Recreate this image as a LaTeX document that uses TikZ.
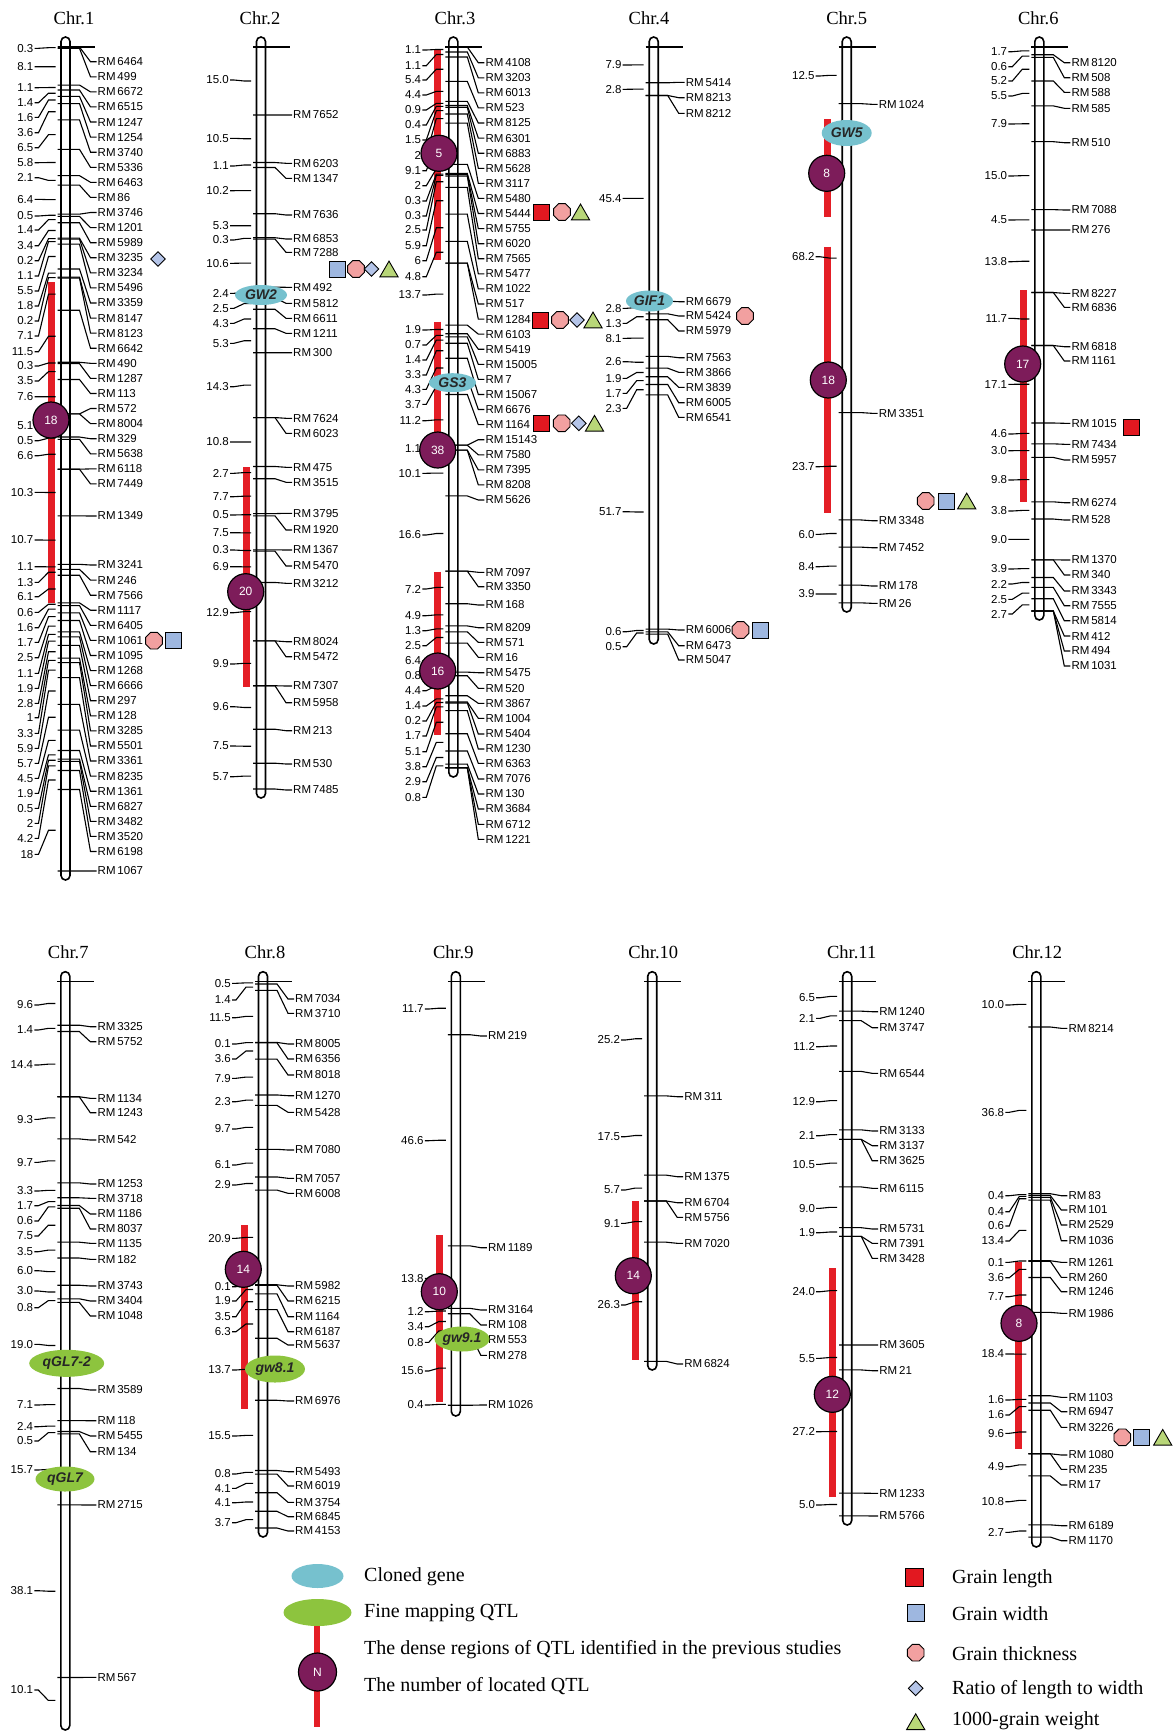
\documentclass[tikz,border=0pt]{standalone}
\usepackage{fontspec}
\setmainfont{Liberation Serif}
\setsansfont{Liberation Sans}
\usepackage{tikz}
\usetikzlibrary{shapes.geometric}

\definecolor{qred}{RGB}{228,30,38}
\definecolor{qpurple}{RGB}{125,28,90}
\definecolor{qclone}{RGB}{118,193,206}
\definecolor{qfine}{RGB}{141,196,62}
\definecolor{qlen}{RGB}{226,24,32}
\definecolor{qwid}{RGB}{158,183,224}
\definecolor{qthk}{RGB}{242,160,160}
\definecolor{qrat}{RGB}{180,196,232}
\definecolor{qwt}{RGB}{184,214,120}

% chromosome bar: centre x, first marker y, bottom y
\newcommand{\chrbar}[3]{\draw[chromo] (#1-4.5,#2-10) rectangle (#1+4.5,#3);}
% map: id, centre x, first marker y, intervals (cM/label y), markers (position/label y/name)
\newcommand{\chrmap}[5]{%
  \coordinate (#1-0) at (#2,#3);
  \draw[tk] ([xshift=-8pt]#1-0) -- ([xshift=29pt]#1-0);
  \gdef\cmcum{0}
  \foreach \dist/\ly [count=\i] in {#4}{
    \pgfmathsetmacro\prevy{#3+4.53*\cmcum}
    \pgfmathsetmacro\newcum{\cmcum+\dist}
    \xdef\cmcum{\newcum}
    \pgfmathsetmacro\posy{#3+4.53*\newcum}
    \pgfmathsetmacro\midy{(\prevy+\posy)/2}
    \coordinate (#1-\i) at (#2,\posy);
    \coordinate (#1-t\i) at (#2-10,\midy);
    \node[dlbl] (#1-d\i) at (#2-31,\ly) {\dist};
    \draw[tk] (#1-d\i.east) -- ++(4,0) -- ([xshift=-7pt]#1-t\i) -- (#1-t\i);
  }
  \foreach \pk/\ly/\nm [count=\mj] in {#5}{
    \node[mlbl] (#1-m\mj) at (#2+31,\ly) {RM\,\nm};
    \draw[tk] ([xshift=-8pt]#1-\pk) -- ([xshift=14pt]#1-\pk) -- ([xshift=-6pt]#1-m\mj.west) -- (#1-m\mj.west);
  }
}

\begin{document}
\begin{tikzpicture}[x=1pt, y=-1pt,
  tk/.style={line width=1.1pt},
  chromo/.style={draw, line width=1.6pt, fill=white, rounded corners=4.5pt},
  qtl/.style={draw=qred, line width=7pt},
  mlbl/.style={font=\sffamily\fontsize{11.5}{12}\selectfont, inner sep=1pt, anchor=west},
  dlbl/.style={font=\sffamily\fontsize{11.5}{12}\selectfont, inner sep=1pt, anchor=east},
  ttl/.style={font=\fontsize{18.5}{20}\selectfont},
  qnum/.style={circle, draw, line width=1.2pt, fill=qpurple, text=white, minimum size=36pt,
               inner sep=0pt, font=\sffamily\fontsize{12}{12}\selectfont},
  clone/.style={ellipse, fill=qclone, inner sep=0pt, text=black!85,
                font=\sffamily\bfseries\itshape\fontsize{14}{14}\selectfont},
  finemap/.style={ellipse, fill=qfine, inner sep=0pt, text=black!85,
                  font=\sffamily\bfseries\itshape\fontsize{14}{14}\selectfont},
  glen/.style={rectangle, draw, line width=0.9pt, fill=qlen, minimum size=16pt, inner sep=0pt},
  gwid/.style={rectangle, draw, line width=0.9pt, fill=qwid, minimum size=16pt, inner sep=0pt},
  gthk/.style={regular polygon, regular polygon sides=8, draw, line width=0.9pt, fill=qthk,
               minimum size=18pt, inner sep=0pt},
  grat/.style={diamond, draw, line width=0.9pt, fill=qrat, minimum size=15pt, inner sep=0pt},
  gwt/.style={regular polygon, regular polygon sides=3, draw, line width=0.9pt, fill=qwt,
              minimum size=21pt, inner sep=0pt, yshift=-2.6pt},
  legtxt/.style={font=\fontsize{20}{22}\selectfont, anchor=west, inner sep=0pt}
]
\useasboundingbox (0,0) rectangle (1174,1733);

% titles
\node[ttl] (t1) at (74,18) {Chr.1};
\node[ttl] (t2) at (260,18) {Chr.2};
\node[ttl] (t3) at (455,18) {Chr.3};
\node[ttl] (t4) at (649,18) {Chr.4};
\node[ttl] (t5) at (846.7,18) {Chr.5};
\node[ttl] (t6) at (1038.3,18) {Chr.6};
\node[ttl] (t7) at (68.3,951.7) {Chr.7};
\node[ttl] (t8) at (265,951.7) {Chr.8};
\node[ttl] (t9) at (453.3,951.7) {Chr.9};
\node[ttl] (t10) at (653.3,951.7) {Chr.10};
\node[ttl] (t11) at (851.7,951.7) {Chr.11};
\node[ttl] (t12) at (1037.3,951.7) {Chr.12};

% Chr.1
\chrbar{65.5}{47}{880}
\draw[qtl] (51.5,282) -- (51.5,603);
\chrmap{c1}{65.5}{47}{0.3/48.3, 8.1/66.7, 1.1/87.7, 1.4/102.7, 1.6/117.3, 3.6/132.7, 6.5/147.7, 5.8/162.7,
  2.1/177.7, 6.4/199.3, 0.5/216, 1.4/230, 3.4/245.7, 0.2/260.7, 1.1/276, 5.5/291, 1.8/306, 0.2/321,
  7.1/336, 11.5/351.7, 0.3/366, 3.5/381, 7.6/396.7, 5.1/426, 0.5/440.7, 6.6/455.7, 10.3/492.3,
  10.7/540, 1.1/566.7, 1.3/582.3, 6.1/596.7, 0.6/612.3, 1.6/627.7, 1.7/642.3, 2.5/657.7, 1.1/673.3,
  1.9/688.3, 2.8/703.3, 1/717.7, 3.3/733.3, 5.9/748.3, 5.7/763.3, 4.5/778.3, 1.9/793.3, 0.5/808.3,
  2/823.3, 4.2/838.3, 18/854.3}
 {0/61.7/6464, 1/76.8/499, 2/91.9/6672, 3/106.9/6515, 4/122/1247, 5/137.1/1254, 6/152.2/3740,
  7/167.3/5336, 8/182.3/6463, 9/197.4/86, 10/212.5/3746, 11/227.6/1201, 12/242.7/5989,
  13/257.7/3235, 14/272.8/3234, 15/287.9/5496, 16/303/3359, 17/318.1/8147, 18/333.1/8123,
  19/348.2/6642, 20/363.3/490, 21/378.4/1287, 22/393.5/113, 23/408.5/572, 23/423.6/8004,
  24/438.7/329, 25/453.8/5638, 26/468.9/6118, 26/483.9/7449, 27/516/1349, 28/565/3241,
  29/580.1/246, 30/595.2/7566, 31/610.2/1117, 32/625.3/6405, 33/640.4/1061, 34/655.5/1095,
  35/670.6/1268, 36/685.6/6666, 37/700.7/297, 38/715.8/128, 39/730.9/3285, 40/746/5501,
  41/761/3361, 42/776.1/8235, 43/791.2/1361, 44/806.3/6827, 45/821.4/3482, 46/836.4/3520,
  47/851.5/6198, 48/871/1067}
\node[qnum] (n1) at (51,420) {18};
\node[grat] (s1a) at (158,259) {};
\node[gthk] (s1b) at (154,640.7) {};
\node[gwid] (s1c) at (173,640.7) {};

% Chr.2
\chrbar{261}{47}{798}
\draw[qtl] (246,467) -- (246,687);
\chrmap{c2}{261}{47}{15.0/80, 10.5/138.3, 1.1/166, 10.2/190.7, 5.3/225.7, 0.3/240, 10.6/263.3, 2.4/293.3,
  2.5/308.3, 4.3/323.3, 5.3/343.3, 14.3/386.7, 10.8/442, 2.7/473.3, 7.7/496.7, 0.5/515, 7.5/532.7,
  0.3/550, 6.9/566.7, 12.9/612.7, 9.9/664, 9.6/706.7, 7.5/746, 5.7/776.7}
 {1/115/7652, 2/163.3/6203, 3/178.3/1347, 4/215/7636, 5/239/6853, 6/252.3/7288, 7/287.3/492,
  8/303.3/5812, 9/318.3/6611, 10/333.3/1211, 11/352.7/300, 12/418.3/7624, 12/433.3/6023,
  13/467.3/475, 14/482.3/3515, 15/513.3/3795, 16/530/1920, 17/550/1367, 18/566/5470,
  19/583.3/3212, 20/641.7/8024, 20/656.7/5472, 21/686/7307, 21/702.7/5958, 22/730.7/213,
  23/764/530, 24/790/7485}
\node[clone, minimum width=52pt, minimum height=20pt] (gw2) at (261,295) {GW2};
\node[qnum] (n2) at (245.7,591.7) {20};
\node[gwid] (s2a) at (337,269) {};
\node[gthk] (s2b) at (356,269) {};
\node[grat] (s2c) at (371.5,269) {};
\node[gwt] (s2d) at (389,269) {};

% Chr.3
\chrbar{453.3}{47}{777}
\draw[qtl] (437,50) -- (437,260);
\draw[qtl] (437,321.7) -- (437,450);
\draw[qtl] (437,571.7) -- (437,735);
\chrmap{c3}{453.3}{47}{1.1/50, 1.1/65.7, 5.4/80, 4.4/95, 0.9/110, 0.4/125, 1.5/140, 2/155, 9.1/170.7,
  2/185.7, 0.3/201, 0.3/216, 2.5/230, 5.9/245.7, 6/260.7, 4.8/276.7, 13.7/295, 1.9/330, 0.7/345,
  1.4/360, 3.3/375, 4.3/389.3, 3.7/404.3, 11.2/420.7, 1.1/448.3, 10.1/473.3, 16.6/535, 7.2/589,
  4.9/615.7, 1.3/630.7, 2.5/645.7, 6.4/660.7, 0.8/676, 4.4/690.7, 1.4/706, 0.2/721, 1.7/736,
  5.1/751.7, 3.8/766.7, 2.9/781.7, 0.8/797.3}
 {0/62.7/4108, 1/77.8/3203, 2/92.9/6013, 3/107.9/523, 4/123/8125, 5/138.1/6301, 6/153.2/6883,
  7/168.3/5628, 8/183.3/3117, 9/198.4/5480, 10/213.5/5444, 11/228.6/5755, 12/243.7/6020,
  13/258.7/7565, 14/273.8/5477, 15/288.9/1022, 16/304/517, 16/319.1/1284, 17/334.1/6103,
  18/349.2/5419, 19/364.3/15005, 20/379.4/7, 21/394.5/15067, 22/409.5/6676, 23/424.6/1164,
  24/439.7/15143, 24/454.8/7580, 25/469.9/7395, 25/484.9/8208, 26/500/5626, 27/572.3/7097,
  27/586.7/3350, 28/605/168, 29/627.7/8209, 30/642.3/571, 31/657.3/16, 32/672.7/5475,
  33/688.3/520, 34/703.3/3867, 35/718.3/1004, 36/734/5404, 37/749/1230, 38/763.3/6363,
  39/779/7076, 40/794/130, 41/809/3684, 41/824.3/6712, 41/839.3/1221}
\node[clone, minimum width=47pt, minimum height=19pt] (gs3) at (452.5,382.7) {GS3};
\node[qnum] (n3a) at (439,153.3) {5};
\node[qnum] (n3b) at (437.7,450) {38};
\node[qnum] (n3c) at (437.7,671) {16};
\node[glen] (s3a) at (541.5,212) {};
\node[gthk] (s3b) at (562,212) {};
\node[gwt] (s3c) at (580.5,212) {};
\node[glen] (s3d) at (540.5,320) {};
\node[gthk] (s3e) at (560,320) {};
\node[grat] (s3f) at (577,320) {};
\node[gwt] (s3g) at (593,320) {};
\node[glen] (s3h) at (541.7,423.3) {};
\node[gthk] (s3i) at (561.7,423.3) {};
\node[grat] (s3j) at (578.8,423.3) {};
\node[gwt] (s3k) at (594.5,423.3) {};

% Chr.4
\chrbar{653.7}{47}{644}
\chrmap{c4}{653.7}{47}{7.9/65, 2.8/89.3, 45.4/198.3, 2.8/308.3, 1.3/323.3, 8.1/338.3, 2.6/361.7,
  1.9/378.3, 1.7/393.3, 2.3/408.3, 51.7/511.7, 0.6/631.7, 0.5/646.7}
 {1/82.3/5414, 2/97.7/8213, 2/113.3/8212, 3/301.7/6679, 4/316/5424, 5/331/5979, 6/357.7/7563,
  7/372.3/3866, 8/387.3/3839, 9/402.7/6005, 10/417.3/6541, 11/630/6006, 12/645.7/6473,
  13/660/5047}
\node[clone, minimum width=47pt, minimum height=21pt] (gif1) at (649.5,301) {GIF1};
\node[gthk] (s4a) at (745,316) {};
\node[gthk] (s4b) at (740.5,630) {};
\node[gwid] (s4c) at (760.5,630) {};

% Chr.5
\chrbar{846.7}{47}{612}
\draw[qtl] (827,119.3) -- (827,217.3);
\draw[qtl] (827,246.7) -- (827,513.3);
\chrmap{c5}{846.7}{47}{12.5/76, 68.2/256.7, 23.7/466.7, 6.0/534.3, 8.4/566.7, 3.9/594}
 {1/104.3/1024, 2/413.3/3351, 3/520.7/3348, 4/547.7/7452, 5/586/178, 6/603.3/26}
\node[clone, minimum width=50pt, minimum height=26pt] (gw5) at (846.7,133) {GW5};
\node[qnum] (n5a) at (826.7,173.3) {8};
\node[qnum] (n5b) at (828.3,380) {18};
\node[gthk] (s5a) at (925.7,501) {};
\node[gwid] (s5b) at (946.7,501) {};
\node[gwt] (s5c) at (966.7,501) {};

% Chr.6
\chrbar{1039.3}{47}{620}
\draw[qtl] (1023.7,290) -- (1023.7,501.7);
\chrmap{c6}{1039.3}{47}{1.7/51.7, 0.6/66.7, 5.2/81, 5.5/96, 7.9/124, 15.0/176, 4.5/220, 13.8/261.7,
  11.7/318.3, 17.1/384.3, 4.6/434, 3.0/450.7, 9.8/480, 3.8/511, 9.0/539.3, 3.9/569, 2.2/584,
  2.5/599.3, 2.7/614}
 {1/62.7/8120, 2/77.7/508, 3/92.3/588, 4/108.3/585, 5/142.7/510, 6/210/7088, 7/230/276,
  8/293.3/8227, 8/307.3/6836, 9/346.7/6818, 9/361/1161, 10/423.3/1015, 11/444.3/7434,
  12/460/5957, 13/502.7/6274, 14/520/528, 15/560/1370, 15/575/340, 16/591/3343, 17/605.7/7555,
  18/620.7/5814, 19/636/412, 19/651/494, 19/666/1031}
\node[qnum] (n6) at (1022.7,364) {17};
\node[glen] (s6a) at (1131,427.7) {};

% Chr.7
\chrbar{65.3}{981.7}{1730}
\chrmap{c7}{65.3}{981.7}{9.6/1005, 1.4/1030, 14.4/1065, 9.3/1119.3, 9.7/1162.3, 3.3/1191, 1.7/1205.7,
  0.6/1221, 7.5/1236, 3.5/1251.7, 6.0/1270.7, 3.0/1291, 0.8/1307.7, 19.0/1344.3, 7.1/1405,
  2.4/1426.7, 0.5/1441, 15.7/1470, 38.1/1590.7, 10.1/1690}
 {1/1026.7/3325, 2/1041.7/5752, 3/1098.3/1134, 3/1112.7/1243, 4/1140/542, 5/1184/1253,
  6/1198.3/3718, 7/1214/1186, 8/1229/8037, 9/1243.3/1135, 10/1259.3/182, 11/1286/3743,
  12/1301/3404, 13/1316/1048, 14/1390/3589, 15/1420.7/118, 16/1436/5455, 17/1451.7/134,
  18/1505/2715, 19/1677.3/567}
\node[finemap, minimum width=75pt, minimum height=27pt] (qgl72) at (66.7,1363.3) {qGL7-2};
\node[finemap, minimum width=59pt, minimum height=25pt] (qgl7) at (65,1479) {qGL7};

% Chr.8
\chrbar{263}{981.7}{1537}
\draw[qtl] (244,1225) -- (244,1409.3);
\chrmap{c8}{263}{981.7}{0.5/983.3, 1.4/1000, 11.5/1017.7, 0.1/1044, 3.6/1059, 7.9/1078.3, 2.3/1101.7,
  9.7/1129, 6.1/1165, 2.9/1185, 20.9/1238.3, 0.1/1286.7, 1.9/1301, 3.5/1316.7, 6.3/1331.7,
  13.7/1370, 15.5/1436, 0.8/1474, 4.1/1488.3, 4.1/1502.7, 3.7/1522.7}
 {1/999/7034, 2/1013.3/3710, 3/1044/8005, 4/1059/6356, 5/1075/8018, 6/1095.7/1270,
  7/1112.3/5428, 8/1150/7080, 9/1178.3/7057, 10/1193.3/6008, 11/1286/5982, 12/1301/6215,
  13/1316.7/1164, 14/1331.7/6187, 15/1345/5637, 16/1401/6976, 17/1471.7/5493, 18/1486/6019,
  19/1502.3/3754, 20/1516.7/6845, 21/1531/4153}
\node[qnum] (n8) at (243.3,1269.3) {14};
\node[finemap, minimum width=60pt, minimum height=27pt] (gw81) at (275,1369) {gw8.1};

% Chr.9
\chrbar{455.8}{981.7}{1416}
\draw[qtl] (439.3,1235) -- (439.3,1402);
\chrmap{c9}{455.8}{981.7}{11.7/1009, 46.6/1140.7, 13.8/1278.3, 1.2/1311.7, 3.4/1326.7, 0.8/1342.3,
  15.6/1371, 0.4/1405}
 {1/1036/219, 2/1247.7/1189, 3/1310/3164, 4/1325/108, 5/1339.3/553, 6/1355.3/278, 8/1405/1026}
\node[qnum] (n9) at (439.3,1291.7) {10};
\node[finemap, minimum width=54pt, minimum height=25pt] (gw91) at (462,1339) {gw9.1};

% Chr.10
\chrbar{652.2}{981.7}{1370}
\draw[qtl] (635,1201) -- (635,1360);
\chrmap{c10}{652.2}{981.7}{25.2/1040, 17.5/1136.7, 5.7/1190, 9.1/1223.3, 26.3/1305}
 {1/1096.7/311, 2/1176.7/1375, 3/1202.7/6704, 3/1217.3/5756, 4/1243.3/7020, 5/1364/6824}
\node[qnum] (n10) at (633.3,1275.7) {14};

% Chr.11
\chrbar{847.2}{981.7}{1525}
\draw[qtl] (832,1268.3) -- (832,1496.7);
\chrmap{c11}{847.2}{981.7}{6.5/997.7, 2.1/1018.3, 11.2/1046.7, 12.9/1101.7, 2.1/1135.7, 10.5/1164.3,
  9.0/1208.3, 1.9/1232.7, 24.0/1291.7, 5.5/1358.3, 27.2/1431.7, 5.0/1505}
 {1/1011.7/1240, 2/1027.7/3747, 3/1073.3/6544, 4/1131/3133, 5/1145.7/3137, 5/1160.7/3625,
  6/1188.3/6115, 7/1229/5731, 8/1243.3/7391, 8/1258.3/3428, 9/1345/3605, 10/1370.7/21,
  11/1493.3/1233, 12/1516/5766}
\node[qnum] (n11) at (832.3,1394.3) {12};

% Chr.12
\chrbar{1036.3}{981.7}{1547}
\draw[qtl] (1018.3,1261.7) -- (1018.3,1449);
\chrmap{c12}{1036.3}{981.7}{10.0/1005, 36.8/1112.3, 0.4/1195.7, 0.4/1211.7, 0.6/1226, 13.4/1241,
  0.1/1262.3, 3.6/1277.7, 7.7/1296.7, 18.4/1354, 1.6/1400, 1.6/1415, 9.6/1433.3, 4.9/1466.7,
  10.8/1501.7, 2.7/1532.3}
 {1/1028.3/8214, 2/1195.7/83, 3/1210/101, 4/1225/2529, 5/1240.7/1036, 6/1262.3/1261,
  7/1277.3/260, 8/1291.7/1246, 9/1313.3/1986, 10/1397.3/1103, 11/1411.7/6947, 12/1427.3/3226,
  13/1455/1080, 13/1469.3/235, 14/1485/17, 15/1525.7/6189, 16/1540.7/1170}
\node[qnum] (n12) at (1019,1323.3) {8};
\node[gthk] (s12a) at (1122.3,1437.3) {};
\node[gwid] (s12b) at (1141.7,1437.3) {};
\node[gwt] (s12c) at (1162.7,1437.3) {};

% legend, left
\node[clone, minimum width=52pt, minimum height=24pt] (lgclone) at (317.5,1576) {};
\node[finemap, minimum width=68pt, minimum height=27pt] (lgfine) at (317.5,1612.5) {};
\draw[qtl, line width=6.5pt] (317,1626) -- (317,1727);
\node[qnum, minimum size=38pt] (lgnum) at (317.5,1672) {N};
\node[legtxt] (lt1) at (364,1577) {Cloned gene};
\node[legtxt] (lt2) at (364,1613.5) {Fine mapping QTL};
\node[legtxt] (lt3) at (364,1649.3) {The dense regions of QTL identified in the previous studies};
\node[legtxt] (lt4) at (364,1686.3) {The number of located QTL};

% legend, right
\node[glen, minimum size=18pt] (lglen) at (914.5,1577.5) {};
\node[gwid, minimum size=17pt] (lgwid) at (915.7,1612.7) {};
\node[gthk] (lgthk) at (915.7,1652.7) {};
\node[grat] (lgrat) at (915.7,1688.3) {};
\node[gwt] (lgwt) at (915.7,1721.7) {};
\node[legtxt] (lr1) at (952,1578.5) {Grain length};
\node[legtxt] (lr2) at (952,1613.7) {Grain width};
\node[legtxt] (lr3) at (952,1653.7) {Grain thickness};
\node[legtxt] (lr4) at (952,1689.3) {Ratio of length to width};
\node[legtxt] (lr5) at (952,1721) {1000-grain weight};
\end{tikzpicture}
\end{document}
